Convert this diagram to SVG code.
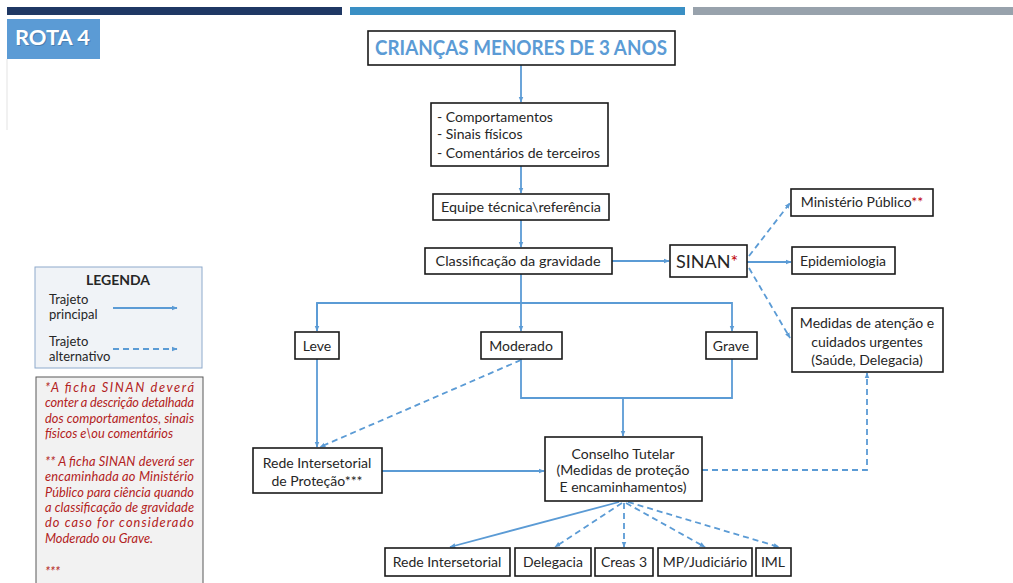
<svg xmlns="http://www.w3.org/2000/svg" width="1013" height="583" viewBox="0 0 1013 583">
<defs>
<marker id="ah" viewBox="0 0 10 10" refX="9" refY="5" markerWidth="6" markerHeight="6" markerUnits="userSpaceOnUse" orient="auto"><path d="M0,1 L10,5 L0,9 z" fill="#5b9bd5"/></marker>
</defs>
<style>
.box{fill:#ffffff;stroke:#1a1a1a;stroke-width:1.6}
.t{font-family:Lato,"Open Sans","Liberation Sans",sans-serif;font-size:14px;fill:#262626;text-anchor:middle}
.s{fill:none;stroke:#5b9bd5;stroke-width:1.8}
.d{fill:none;stroke:#5b9bd5;stroke-width:1.8;stroke-dasharray:6,4}
.red{fill:#c00000}
.note{font-family:Lato,"Open Sans","Liberation Sans",sans-serif;font-size:12.8px;font-style:italic;fill:#b22222}
</style>
<rect width="1013" height="583" fill="#ffffff"/>
<g id="header">
<rect x="7" y="7" width="335" height="8" fill="#1f3864"/>
<rect x="350" y="7" width="335" height="8" fill="#3a8fc4"/>
<rect x="693" y="7" width="320" height="8" fill="#98a2ac"/>
<line x1="7" y1="59" x2="7" y2="130" stroke="#e3e3e3" stroke-width="1"/>
<rect x="7" y="19" width="93" height="40" fill="#5b9bd5"/>
<text x="16" y="46" font-family="Lato,'Liberation Sans',sans-serif" font-size="20" font-weight="bold" fill="#2a4a6a" opacity="0.35" textLength="75" lengthAdjust="spacingAndGlyphs">ROTA 4</text>
<text x="15" y="45" font-family="Lato,'Liberation Sans',sans-serif" font-size="20" font-weight="bold" fill="#ffffff" textLength="75" lengthAdjust="spacingAndGlyphs">ROTA 4</text>
</g>
<g id="connectors">
<path class="s" d="M521,65 V102" marker-end="url(#ah)"/>
<path class="s" d="M521,166 V193" marker-end="url(#ah)"/>
<path class="s" d="M521,220 V247" marker-end="url(#ah)"/>
<path class="s" d="M612,261 H669" marker-end="url(#ah)"/>
<path class="s" d="M747,262 H791" marker-end="url(#ah)"/>
<path class="d" d="M749,256 L790,203" marker-end="url(#ah)"/>
<path class="d" d="M749,268 L790,338" marker-end="url(#ah)"/>
<path class="s" d="M521,274 V331" marker-end="url(#ah)"/>
<path class="s" d="M317,331 V303 H732 V331" marker-end="url(#ah)"/>
<path class="s" d="M317,303 V331" marker-end="url(#ah)"/>
<path class="s" d="M317,359 V447" marker-end="url(#ah)"/>
<path class="d" d="M521,360 L320,447" marker-end="url(#ah)"/>
<path class="s" d="M521,359 V398 H732 V359"/>
<path class="s" d="M623,398 V436" marker-end="url(#ah)"/>
<path class="s" d="M382,471 H544" marker-end="url(#ah)"/>
<path class="d" d="M702,470 H867 V373" marker-end="url(#ah)"/>
<path class="s" d="M619,502 L450,547" marker-end="url(#ah)"/>
<path class="d" d="M622,503 L555,547" marker-end="url(#ah)"/>
<path class="d" d="M624,503 V547" marker-end="url(#ah)"/>
<path class="d" d="M626,503 L705,547" marker-end="url(#ah)"/>
<path class="d" d="M628,502 L779,547" marker-end="url(#ah)"/>
</g>
<g id="n-criancas">
<rect class="box" x="368" y="31" width="307" height="34"/>
<text x="521" y="55" font-family="Lato,'Liberation Sans',sans-serif" font-size="20" font-weight="bold" fill="#5b9bd5" text-anchor="middle" textLength="292" lengthAdjust="spacingAndGlyphs">CRIANÇAS MENORES DE 3 ANOS</text>
</g>
<g id="n-comportamentos">
<rect class="box" x="431" y="103" width="177" height="63"/>
<text class="t" x="437" y="122" style="text-anchor:start">- Comportamentos</text>
<text class="t" x="437" y="139" style="text-anchor:start">- Sinais físicos</text>
<text class="t" x="437" y="158" style="text-anchor:start" textLength="163" lengthAdjust="spacingAndGlyphs">- Comentários de terceiros</text>
</g>
<g id="n-equipe">
<rect class="box" x="433" y="194" width="176" height="26"/>
<text class="t" x="521" y="212" textLength="160" lengthAdjust="spacingAndGlyphs">Equipe técnica\referência</text>
</g>
<g id="n-classificacao">
<rect class="box" x="425" y="248" width="187" height="26"/>
<text class="t" x="518" y="266" textLength="165" lengthAdjust="spacingAndGlyphs">Classificação da gravidade</text>
</g>
<g id="n-sinan">
<rect class="box" x="670" y="245" width="77" height="32"/>
<text class="t" x="707" y="268" style="font-size:18px">SINAN<tspan class="red">*</tspan></text>
</g>
<g id="n-ministerio">
<rect class="box" x="791" y="189" width="142" height="27"/>
<text class="t" x="862" y="207">Ministério Público<tspan class="red">**</tspan></text>
</g>
<g id="n-epidemiologia">
<rect class="box" x="792" y="247" width="103" height="27"/>
<text class="t" x="843" y="266">Epidemiologia</text>
</g>
<g id="n-medidas">
<rect class="box" x="792" y="308" width="151" height="64"/>
<text class="t" x="867" y="328">Medidas de atenção e</text>
<text class="t" x="867" y="347">cuidados urgentes</text>
<text class="t" x="867" y="365">(Saúde, Delegacia)</text>
</g>
<g id="n-leve">
<rect class="box" x="295" y="332" width="44" height="27"/>
<text class="t" x="317" y="351">Leve</text>
</g>
<g id="n-moderado">
<rect class="box" x="481" y="332" width="81" height="27"/>
<text class="t" x="521" y="351">Moderado</text>
</g>
<g id="n-grave">
<rect class="box" x="706" y="332" width="51" height="27"/>
<text class="t" x="731" y="351">Grave</text>
</g>
<g id="n-rede-protecao">
<rect class="box" x="253" y="448" width="129" height="45"/>
<text class="t" x="317" y="468">Rede Intersetorial</text>
<text class="t" x="317" y="486">de Proteção***</text>
</g>
<g id="n-conselho">
<rect class="box" x="545" y="437" width="157" height="64"/>
<text class="t" x="623" y="459">Conselho Tutelar</text>
<text class="t" x="623" y="475">(Medidas de proteção</text>
<text class="t" x="623" y="492">E encaminhamentos)</text>
</g>
<g id="n-rede">
<rect class="box" x="385" y="548" width="125" height="28"/>
<text class="t" x="447" y="567">Rede Intersetorial</text>
</g>
<g id="n-delegacia">
<rect class="box" x="515" y="548" width="76" height="28"/>
<text class="t" x="553" y="567">Delegacia</text>
</g>
<g id="n-creas">
<rect class="box" x="595" y="548" width="58" height="28"/>
<text class="t" x="624" y="567">Creas 3</text>
</g>
<g id="n-mp">
<rect class="box" x="658" y="548" width="94" height="28"/>
<text class="t" x="705" y="567">MP/Judiciário</text>
</g>
<g id="n-iml">
<rect class="box" x="756" y="548" width="35" height="28"/>
<text class="t" x="773" y="567">IML</text>
</g>
<g id="legenda">
<rect x="35" y="267" width="167" height="101" fill="#f0f3f7" stroke="#8eaacc" stroke-width="1"/>
<text class="t" x="118" y="285" style="font-weight:bold">LEGENDA</text>
<text class="t" x="49" y="304" style="text-anchor:start;font-size:13px">Trajeto</text>
<text class="t" x="49" y="319" style="text-anchor:start;font-size:13px">principal</text>
<path class="s" d="M113,308 H177" marker-end="url(#ah)"/>
<text class="t" x="49" y="346" style="text-anchor:start;font-size:13px">Trajeto</text>
<text class="t" x="49" y="361" style="text-anchor:start;font-size:13px">alternativo</text>
<path class="d" d="M113,349 H177" marker-end="url(#ah)"/>
</g>
<g id="notas">
<rect x="36" y="377" width="167" height="210" fill="#f2f2f2" stroke="#595959" stroke-width="1"/>
<text class="note" x="45" y="392" textLength="149" lengthAdjust="spacing">*A ficha SINAN deverá</text>
<text class="note" x="45" y="407" textLength="149" lengthAdjust="spacing">conter a descrição detalhada</text>
<text class="note" x="45" y="423" textLength="149" lengthAdjust="spacing">dos comportamentos, sinais</text>
<text class="note" x="45" y="438">físicos e\ou comentários</text>
<text class="note" x="45" y="466" textLength="149" lengthAdjust="spacing">** A ficha SINAN deverá ser</text>
<text class="note" x="45" y="481" textLength="149" lengthAdjust="spacing">encaminhada ao Ministério</text>
<text class="note" x="45" y="497" textLength="149" lengthAdjust="spacing">Público para ciência quando</text>
<text class="note" x="45" y="512" textLength="149" lengthAdjust="spacing">a classificação de gravidade</text>
<text class="note" x="45" y="527" textLength="149" lengthAdjust="spacing">do caso for considerado</text>
<text class="note" x="45" y="543">Moderado ou Grave.</text>
<text class="note" x="45" y="576">***</text>
</g>
</svg>
